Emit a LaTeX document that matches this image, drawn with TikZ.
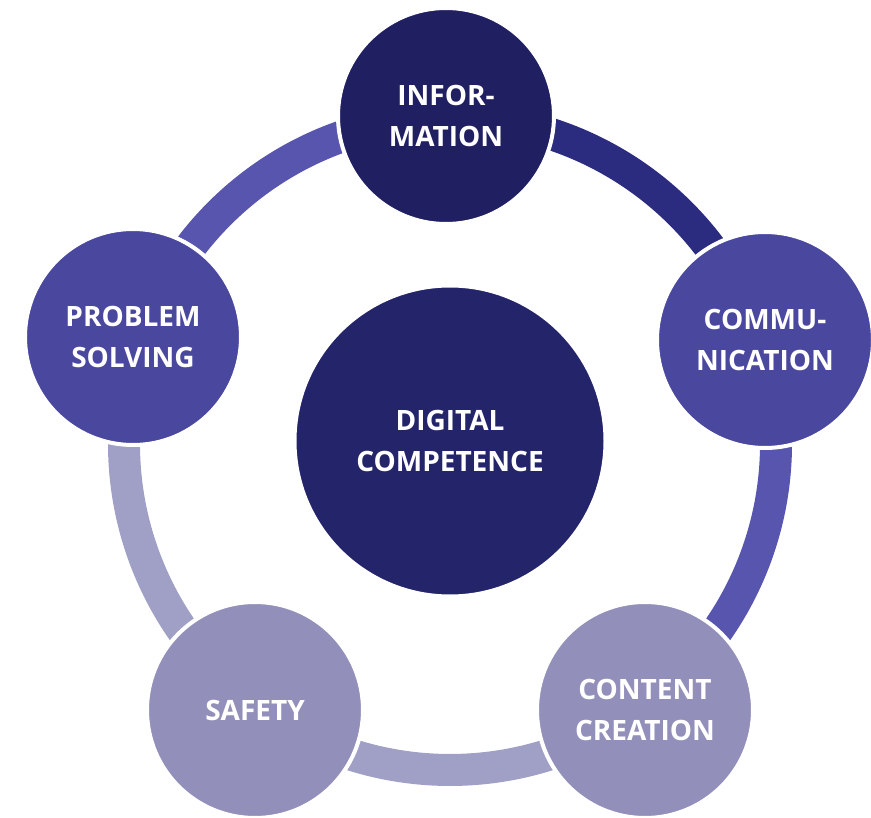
\documentclass[tikz,border=0pt]{standalone}
\usepackage{fontspec}
\setmainfont{Open Sans}
\definecolor{cdark}{HTML}{1F1F62}
\definecolor{ccenter}{HTML}{24246B}
\definecolor{cmed}{HTML}{4A489E}
\definecolor{clight}{HTML}{9290BA}
\definecolor{rdark}{HTML}{2B2B80}
\definecolor{rmed}{HTML}{5855AE}
\definecolor{rlight}{HTML}{A09FC6}
\begin{document}
\begin{tikzpicture}[x=1pt,y=1pt,
  seg/.style={line width=32pt},
  topic/.style={circle, inner sep=0pt, minimum size=216pt, draw=white, line width=4pt,
    text=white, align=center, font=\fontsize{28}{41}\selectfont\bfseries},
  hub/.style={topic, minimum size=311pt}]
\useasboundingbox (0,0) rectangle (871,-818);
\coordinate (ringc) at (450,-444);
% ring segments
\draw[seg, rmed]   (ringc) ++(90:326pt)    arc[start angle=90,    end angle=161.4, radius=326pt];
\draw[seg, rdark]  (ringc) ++(18.3:326pt)  arc[start angle=18.3,  end angle=90,    radius=326pt];
\draw[seg, rmed]   (ringc) ++(-53.8:326pt) arc[start angle=-53.8, end angle=18.3,  radius=326pt];
\draw[seg, rlight] (ringc) ++(-126.2:326pt) arc[start angle=-126.2, end angle=-53.8, radius=326pt];
\draw[seg, rlight] (ringc) ++(161.4:326pt) arc[start angle=161.4, end angle=233.8, radius=326pt];
% nodes
\node[hub, fill=ccenter] (center) at (450,-441) {DIGITAL\\COMPETENCE};
\node[topic, fill=cdark] (info) at (446,-116) {INFOR-\\MATION};
\node[topic, fill=cmed] (comm) at (765,-340) {COMMU-\\NICATION};
\node[topic, fill=clight] (content) at (645,-710) {CONTENT\\CREATION};
\node[topic, fill=clight] (safety) at (255,-710) {SAFETY};
\node[topic, fill=cmed] (problem) at (133,-337) {PROBLEM\\SOLVING};
\end{tikzpicture}
\end{document}
